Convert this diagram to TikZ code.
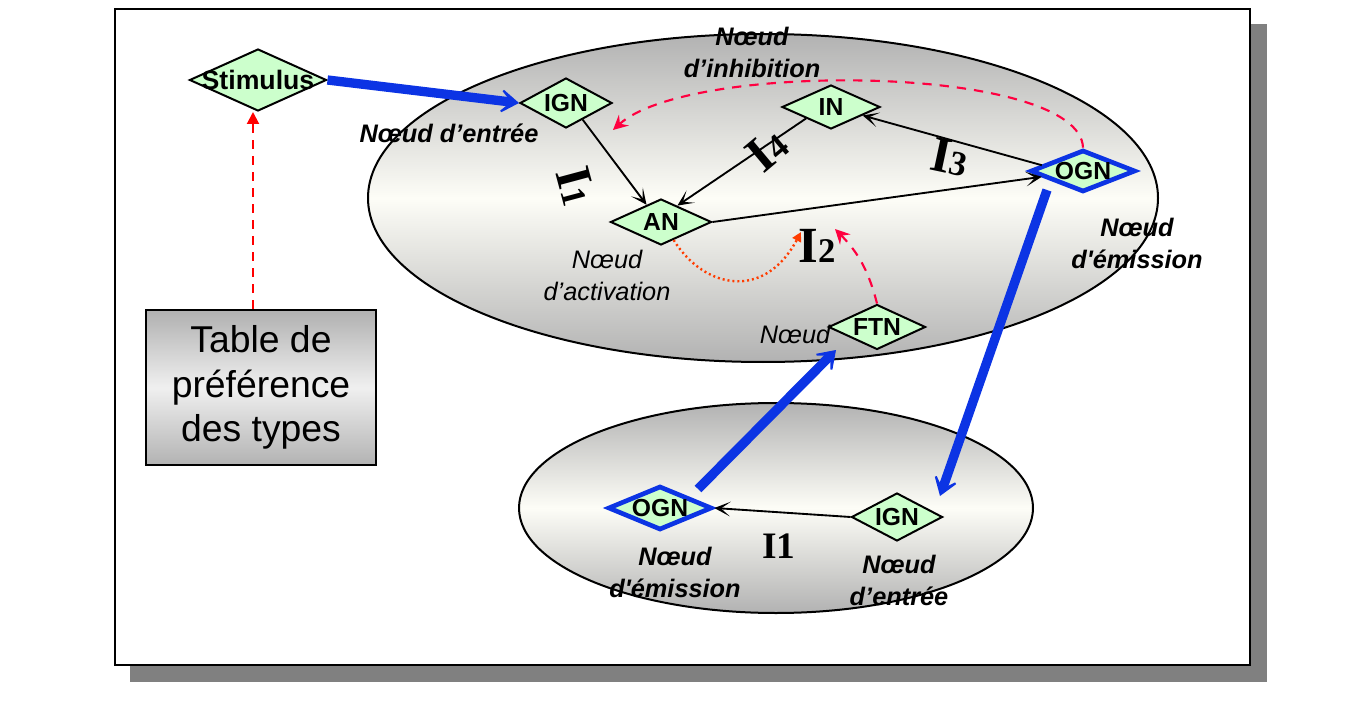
\documentclass[tikz,border=0pt]{standalone}
\usepackage{fontspec}
\setmainfont{Liberation Sans}
\newfontfamily\tnr{Liberation Serif}
\usetikzlibrary{arrows.meta,shapes.geometric}
\definecolor{nodegreen}{RGB}{204,255,204}
\definecolor{arrblue}{RGB}{12,52,228}
\definecolor{dashred}{RGB}{255,0,64}
\definecolor{tabred}{RGB}{255,0,0}
\definecolor{dotorange}{RGB}{255,60,0}
\definecolor{shadowgray}{RGB}{128,128,128}
\definecolor{shadegray}{RGB}{178,178,178}
\definecolor{shadelight}{RGB}{253,253,247}
\newcommand\dlab[1]{\makebox[0pt]{#1}}
\newcommand\Ilab[1]{{\tnr\fontsize{38}{40}\selectfont\bfseries I}{\tnr\fontsize{26}{28}\selectfont\bfseries #1}}
\begin{document}
\begin{tikzpicture}[x=0.75pt,y=-0.75pt,
  dnode/.style={diamond, aspect=2, draw=black, line width=1.5pt, fill=nodegreen, inner sep=0pt,
    font=\fontsize{18.5}{20}\selectfont\bfseries},
  bnode/.style={dnode, draw=arrblue, line width=3.5pt},
  cluster/.style={ellipse, draw=black, line width=1.5pt, top color=shadegray, bottom color=shadegray, middle color=shadelight, inner sep=0pt},
  tablebox/.style={rectangle, draw=black, line width=1.5pt, top color=black!31, bottom color=black!30, middle color=black!6, inner sep=0pt, align=center, font=\fontsize{28}{33.5}\selectfont},
  lab/.style={align=center, inner sep=0pt, font=\fontsize{19}{24}\selectfont\bfseries\itshape},
  labreg/.style={align=center, inner sep=0pt, font=\fontsize{19}{24}\selectfont\itshape},
  bluearr/.style={draw=arrblue, line width=7pt, -{Stealth[length=19pt,width=26pt,inset=13pt]}},
  blkarr/.style={draw=black, line width=1.4pt, -{Stealth[length=12pt,width=11pt,inset=7pt]}},
  tabdash/.style={draw=tabred, line width=1.5pt, dash pattern=on 7pt off 5pt, -{Triangle[length=9pt,width=9pt]}},
  arcarr/.style={draw=dashred, line width=1.6pt, dash pattern=on 7pt off 6pt, -{Stealth[length=11pt,width=11pt,inset=4pt]}},
  dotarr/.style={draw=dotorange, line width=1.8pt, dash pattern=on 1.5pt off 2.2pt, -{Triangle[length=7pt,width=7pt]}}
]
\useasboundingbox (0,0) rectangle (1367,709);
% frame with shadow
\fill[shadowgray] (130,24) rectangle (1267,682);
\draw[line width=2pt, fill=white] (115,9) rectangle (1250,665);
% clusters
\node[cluster, minimum width=592.5pt, minimum height=246pt] (clusterA) at (763,198) {};
\node[cluster, minimum width=385.5pt, minimum height=157.5pt] (clusterB) at (776,508) {};
% table
\node[tablebox, minimum width=172.5pt, minimum height=116.25pt] (table) at (261,387.5) {\raisebox{-3pt}{}Table de\\préférence\\des types};
% diamonds
\node[dnode, minimum width=102.75pt, minimum height=46.5pt, font=\fontsize{20}{22}\selectfont\bfseries] (stim) at (258,80) {\dlab{Stimulus}};
\node[dnode, minimum width=69pt, minimum height=37.5pt] (ign1) at (566,103) {\dlab{IGN}};
\node[dnode, minimum width=75.75pt, minimum height=34.5pt] (an) at (661,222) {\dlab{AN}};
\node[dnode, minimum width=73.5pt, minimum height=33pt] (in) at (831,107) {\dlab{IN}};
\node[bnode, minimum width=78.75pt, minimum height=31.5pt] (ogn1) at (1083,171) {\dlab{OGN}};
\node[dnode, minimum width=72.75pt, minimum height=33.75pt] (ftn) at (877,327) {\dlab{FTN}};
\node[bnode, minimum width=78pt, minimum height=33pt] (ogn2) at (660,508) {\dlab{OGN}};
\node[dnode, minimum width=68.25pt, minimum height=36pt] (ign2) at (897,517) {\dlab{IGN}};
% free ends
\coordinate (tabarr) at (253,309);
\coordinate (arcend) at (613,130);
\coordinate (dotend) at (801,232);
\coordinate (ftnend) at (835,229);
\coordinate (b1start) at (1047,190);
\coordinate (b1tip) at (940,496);
\coordinate (b2start) at (698,489);
\coordinate (b2tip) at (836,350);
% connectors
\draw[bluearr] (stim.east) -- (ign1.west);
\draw[tabdash] (tabarr) -- (tabarr |- stim.south);
\draw[blkarr] (ign1.-45) -- (an.130);
\draw[blkarr] (in.south west) -- (an.45);
\draw[blkarr] (an.east) -- (ogn1.188);
\draw[blkarr] (ogn1.172) -- (in.-15);
\draw[dotarr] (an.-55) .. controls (705,290) and (765,300) .. (dotend);
\draw[arcarr] (ftn.north) to[bend right=15] (ftnend);
\draw[arcarr] (ogn1.north) .. controls (1080,65) and (690,60) .. (arcend);
\draw[bluearr] (b1start) -- (b1tip);
\draw[bluearr] (b2start) -- (b2tip);
\draw[blkarr] (ign2.west) -- (ogn2.east);
% labels
\node[lab] (lentree) at (449,133) {Nœud d’entrée};
\node[lab] (linhib) at (752,52) {Nœud\\d’inhibition};
\node[labreg] (lactiv) at (607,275) {Nœud\\d’activation};
\node[lab] (lemis1) at (1137,243) {Nœud\\d\textquotesingle émission};
\node[labreg] (lftn) at (795,334) {Nœud};
\node[lab] (lemis2) at (675,572) {Nœud\\d\textquotesingle émission};
\node[lab] (lentree2) at (899,580) {Nœud\\d’entrée};
% interaction labels
\node[rotate=-75, inner sep=0pt] (iA) at (576,186) {\Ilab{1}};
\node[rotate=40, inner sep=0pt] (iD) at (767,150) {\Ilab{4}};
\node[rotate=-12, inner sep=0pt] (iC) at (950,157) {\Ilab{3}};
\node[inner sep=0pt] (iB) at (817,246) {\Ilab{2}};
\node[inner sep=0pt, font=\tnr\fontsize{28}{30}\selectfont\bfseries] (iE) at (779,546) {I1};
\end{tikzpicture}
\end{document}
